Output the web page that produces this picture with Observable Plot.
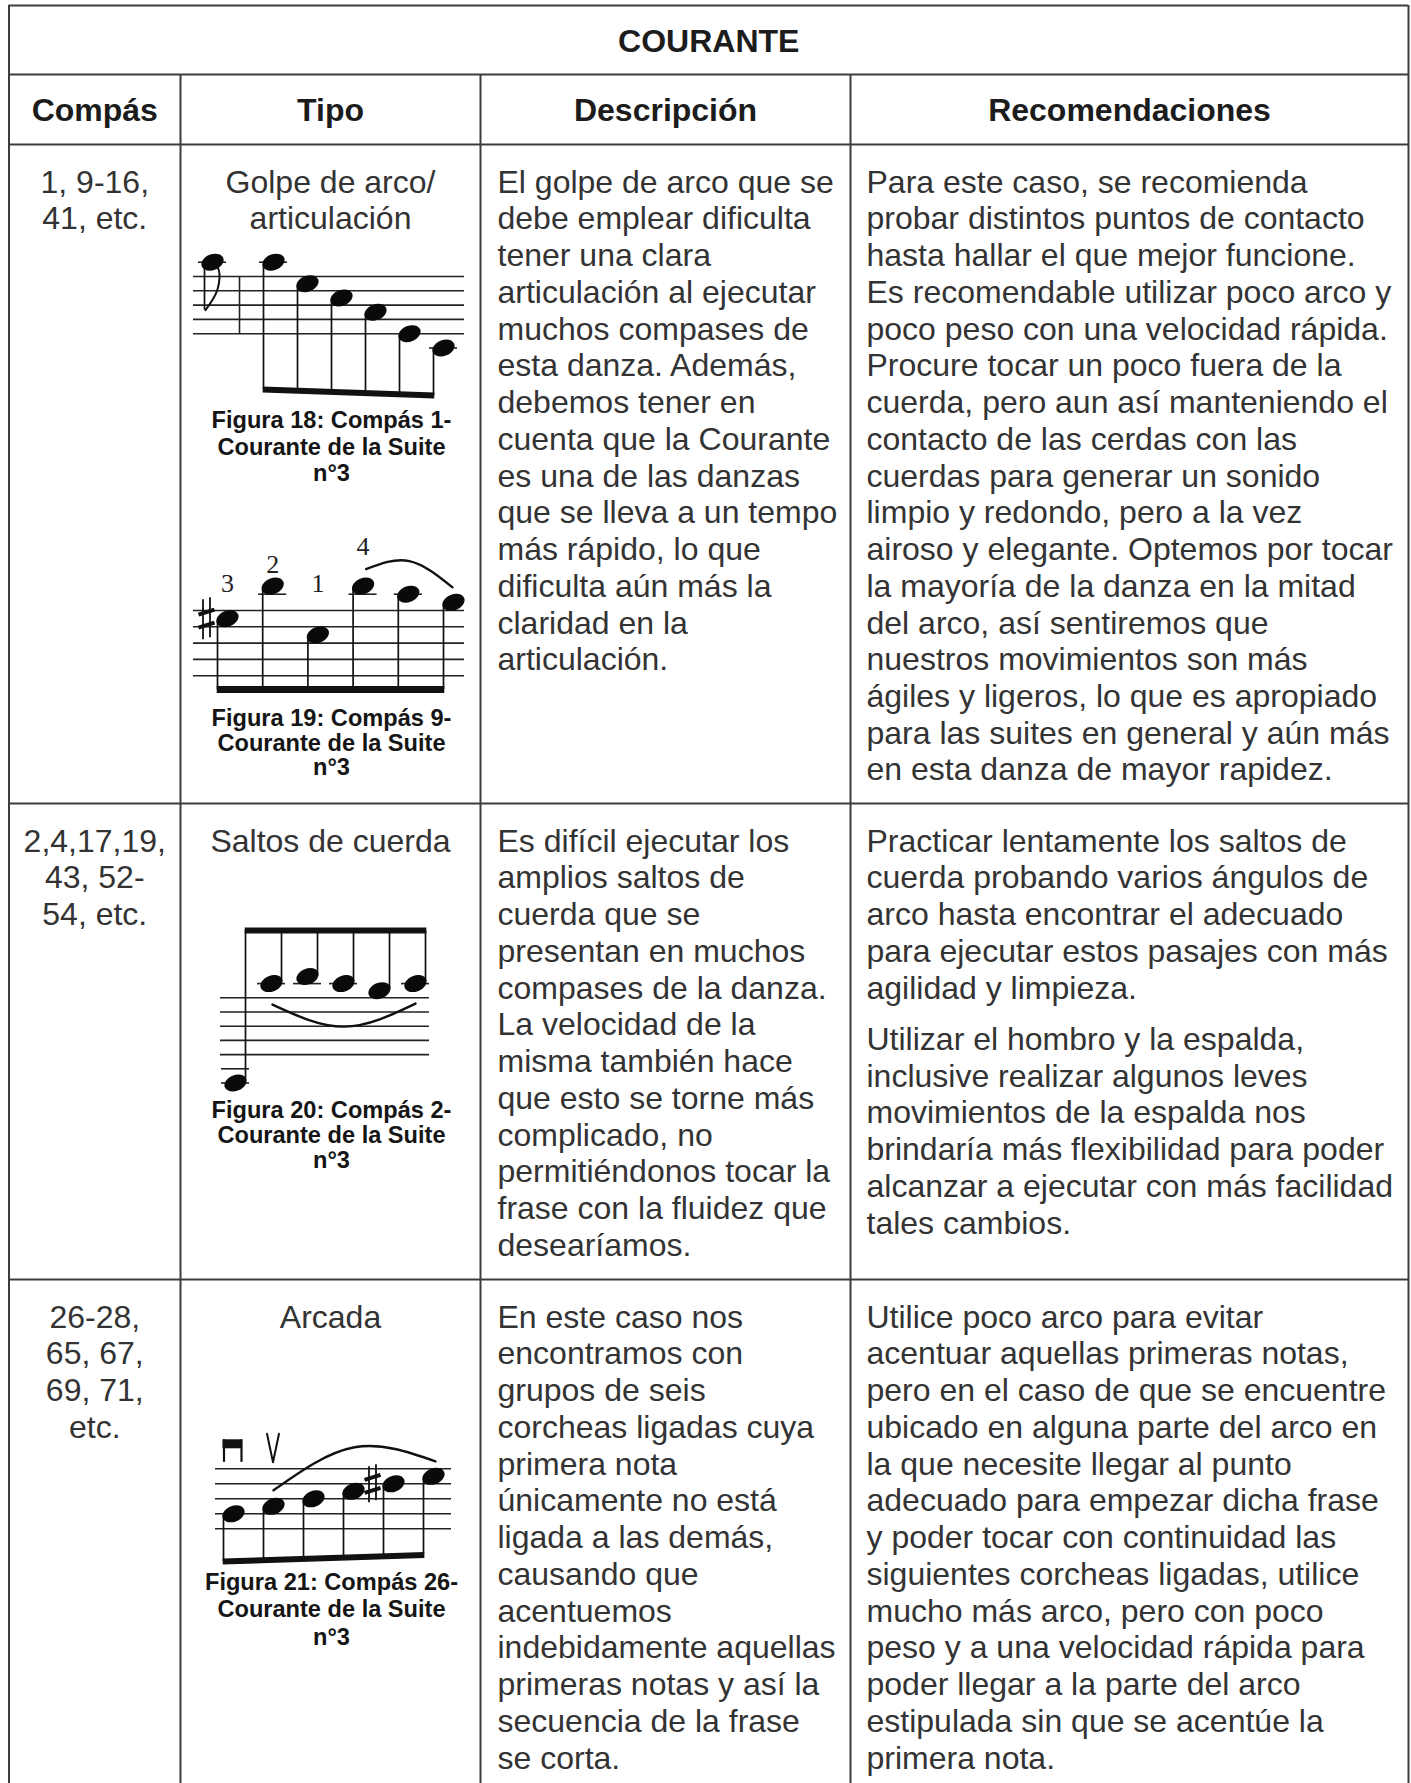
<!DOCTYPE html>
<html>
<head>
<meta charset="utf-8">
<script src="https://cdn.jsdelivr.net/npm/d3@7"></script>
<script src="https://cdn.jsdelivr.net/npm/@observablehq/plot@0.6"></script>
<style>
  html, body { margin: 0; padding: 0; background: #fff; }
  svg { display: block; }
</style>
</head>
<body>
<div id="chart"></div>
<script>
// ---------------- DATA ----------------
const tableTitle = "COURANTE";
const headers = ["Compás", "Tipo", "Descripción", "Recomendaciones"];

const compasCells = [
  ["1, 9-16,", "41, etc."],
  ["2,4,17,19,", "43, 52-", "54, etc."],
  ["26-28,", "65, 67,", "69, 71,", "etc."]
];

const tipoCells = [
  ["Golpe de arco/", "articulación"],
  ["Saltos de cuerda"],
  ["Arcada"]
];

const descripcionCells = [
  ["El golpe de arco que se", "debe emplear dificulta", "tener una clara", "articulación al ejecutar",
   "muchos compases de", "esta danza. Además,", "debemos tener en", "cuenta que la Courante",
   "es una de las danzas", "que se lleva a un tempo", "más rápido, lo que", "dificulta aún más la",
   "claridad en la", "articulación."],
  ["Es difícil ejecutar los", "amplios saltos de", "cuerda que se", "presentan en muchos",
   "compases de la danza.", "La velocidad de la", "misma también hace", "que esto se torne más",
   "complicado, no", "permitiéndonos tocar la", "frase con la fluidez que", "desearíamos."],
  ["En este caso nos", "encontramos con", "grupos de seis", "corcheas ligadas cuya",
   "primera nota", "únicamente no está", "ligada a las demás,", "causando que",
   "acentuemos", "indebidamente aquellas", "primeras notas y así la", "secuencia de la frase",
   "se corta."]
];

const recomendacionesRow1 = [
  "Para este caso, se recomienda", "probar distintos puntos de contacto", "hasta hallar el que mejor funcione.",
  "Es recomendable utilizar poco arco y", "poco peso con una velocidad rápida.", "Procure tocar un poco fuera de la",
  "cuerda, pero aun así manteniendo el", "contacto de las cerdas con las", "cuerdas para generar un sonido",
  "limpio y redondo, pero a la vez", "airoso y elegante. Optemos por tocar", "la mayoría de la danza en la mitad",
  "del arco, así sentiremos que", "nuestros movimientos son más", "ágiles y ligeros, lo que es apropiado",
  "para las suites en general y aún más", "en esta danza de mayor rapidez."
];
const recomendacionesRow2a = [
  "Practicar lentamente los saltos de", "cuerda probando varios ángulos de", "arco hasta encontrar el adecuado",
  "para ejecutar estos pasajes con más", "agilidad y limpieza."
];
const recomendacionesRow2b = [
  "Utilizar el hombro y la espalda,", "inclusive realizar algunos leves", "movimientos de la espalda nos",
  "brindaría más flexibilidad para poder", "alcanzar a ejecutar con más facilidad", "tales cambios."
];
const recomendacionesRow3 = [
  "Utilice poco arco para evitar", "acentuar aquellas primeras notas,", "pero en el caso de que se encuentre",
  "ubicado en alguna parte del arco en", "la que necesite llegar al punto", "adecuado para empezar dicha frase",
  "y poder tocar con continuidad las", "siguientes corcheas ligadas, utilice", "mucho más arco, pero con poco",
  "peso y a una velocidad rápida para", "poder llegar a la parte del arco", "estipulada sin que se acentúe la",
  "primera nota."
];

const captions = {
  18: ["Figura 18: Compás 1-", "Courante de la Suite", "n°3"],
  19: ["Figura 19: Compás 9-", "Courante de la Suite", "n°3"],
  20: ["Figura 20: Compás 2-", "Courante de la Suite", "n°3"],
  21: ["Figura 21: Compás 26-", "Courante de la Suite", "n°3"]
};

// staff steps: 0 = bottom line, 8 = top line
const fig18Pitches = [10, 7, 5, 3, 0, -2];
const fig18Pickup = 10;
const fig19Pitches = [7, 11, 5, 11, 10, 9];
const fig19Fingers = ["3", "2", "1", "4"];
const fig19Sharps = [0];
const fig20Pitches = [-4, 10, 11, 10, 9, 10];
const fig21Pitches = [2, 3, 4, 5, 6, 7];
const fig21Sharps = [4];
const fig21Bowings = ["down", "up"];

// ---------------- LAYOUT ----------------
const W = 1411, H = 1783;
const COLS = [8.5, 180, 480, 850, 1408];
const ROWS = [5, 74, 144, 803, 1279, H];
const LINE = 36.73;
const FS = 32;
const firstLine = r => ROWS[r + 2] + 38;
const INK = "#333";
const DARK = "#1c1c1c";
const RULE = "#3c3c3c";

const figs = [
  {id: 18, pitches: fig18Pitches, staffTop: 276, gap: 14.3, sx1: 193, sx2: 464, nx0: 273, ndx: 34, dir: -1, beam: [389, 395], beamW: 6, capY: 420, capDy: 26.5},
  {id: 19, pitches: fig19Pitches, staffTop: 610, gap: 16.3, sx1: 193, sx2: 464, nx0: 227, ndx: 45.2, dir: -1, beam: [689, 689], beamW: 7, capY: 718, capDy: 24.5},
  {id: 20, pitches: fig20Pitches, staffTop: 997.3, gap: 14.2, sx1: 220, sx2: 429, nx0: 235, ndx: 36, dir: 1, beam: [930, 930], beamW: 6, capY: 1110, capDy: 24.8},
  {id: 21, pitches: fig21Pitches, staffTop: 1468.3, gap: 15, sx1: 215, sx2: 451, nx0: 233, ndx: 40, dir: -1, beam: [1561, 1554.5], beamW: 6, capY: 1582, capDy: 27.4}
];
const slurs = [
  {fig: 19, from: 3, to: 5, side: -1, off: [3, -17, -1, -15], rise: 8},
  {fig: 20, from: 1, to: 5, side: 1, off: [1, 21, 0, 20], rise: 22},
  {fig: 21, from: 1, to: 5, side: -1, off: [0, -16, 2, -15], rise: 14}
];

// ---------------- BUILD ----------------
const hLines = ROWS.slice(0, 5).map(y => ({y, x1: COLS[0], x2: COLS[4]}));
const vLines = [
  {x: COLS[0], y1: ROWS[0], y2: H},
  {x: COLS[4], y1: ROWS[0], y2: H},
  ...COLS.slice(1, 4).map(x => ({x, y1: ROWS[1], y2: H}))
];

const texts = [];
const colCenter = c => (COLS[c] + COLS[c + 1]) / 2;
const pushLines = (lines, x, y0, anchor) =>
  lines.forEach((t, i) => texts.push({text: t, x, y: y0 + i * LINE, anchor}));

for (let r = 0; r < 3; r++) {
  pushLines(compasCells[r], colCenter(0), firstLine(r), "middle");
  pushLines(tipoCells[r], colCenter(1), firstLine(r), "middle");
  pushLines(descripcionCells[r], COLS[2] + 17, firstLine(r), "start");
}
pushLines(recomendacionesRow1, COLS[3] + 16, firstLine(0), "start");
pushLines(recomendacionesRow2a, COLS[3] + 16, firstLine(1), "start");
pushLines(recomendacionesRow2b, COLS[3] + 16, firstLine(1) + recomendacionesRow2a.length * LINE + 14.6, "start");
pushLines(recomendacionesRow3, COLS[3] + 16, firstLine(2), "start");

const headTexts = [
  {text: tableTitle, x: (COLS[0] + COLS[4]) / 2, y: (ROWS[0] + ROWS[1]) / 2 + 1.5},
  ...headers.map((h, i) => ({text: h, x: colCenter(i), y: (ROWS[1] + ROWS[2]) / 2 + 1}))
];

// music
const noteY = (L, p) => L.staffTop + 4 * L.gap - p * L.gap / 2;
const staffLines = [], notes = [], ledgers = [], stems = [], beams = [], capTexts = [];
figs.forEach(L => {
  for (let i = 0; i < 5; i++) staffLines.push({y: L.staffTop + i * L.gap, x1: L.sx1, x2: L.sx2});
  const ns = L.pitches.map((p, i) => ({fig: L.id, i, p, x: L.nx0 + i * L.ndx, y: noteY(L, p)}));
  L.notes = ns;
  const sx = n => n.x + L.dir * 10;
  const x0 = sx(ns[0]), x1 = sx(ns[ns.length - 1]);
  const by = x => L.beam[0] + (L.beam[1] - L.beam[0]) * (x - x0) / (x1 - x0);
  ns.forEach(n => {
    notes.push(n);
    stems.push({x: sx(n), y1: n.y - L.dir * 2, y2: by(sx(n))});
  });
  beams.push({x1: x0 - 0.8, x2: x1 + 0.8, y1: L.beam[0], y2: L.beam[1], w: L.beamW});
  captions[L.id].forEach((t, k) => capTexts.push({text: t, x: colCenter(1) + 1, y: L.capY + k * L.capDy}));
});
// pickup note of fig 18
const F18 = figs[0];
const pickup = {x: 212, y: noteY(F18, fig18Pickup), p: fig18Pickup};
notes.push(pickup);
stems.push({x: pickup.x - 8, y1: pickup.y, y2: pickup.y + 48});
const flag = [
  {x: pickup.x - 7, y: pickup.y + 48},
  {x: pickup.x + 4, y: pickup.y + 30},
  {x: pickup.x + 7, y: pickup.y + 12},
  {x: pickup.x + 5, y: pickup.y + 5}
];
const barLine = [{x: 239, y1: F18.staffTop, y2: F18.staffTop + 4 * F18.gap}];

// ledger lines
figs.forEach(L => {
  const all = L.id === 18 ? [...L.notes, pickup] : L.notes;
  all.forEach(n => {
    if (n.p >= 10) for (let q = 10; q <= n.p; q += 2) ledgers.push({y: noteY(L, q), x1: n.x - 14, x2: n.x + 14});
    if (n.p <= -2) for (let q = -2; q >= n.p; q -= 2) ledgers.push({y: noteY(L, q), x1: n.x - 14, x2: n.x + 14});
  });
});

// slurs
const slurPts = [];
slurs.forEach((s, k) => {
  const L = figs.find(f => f.id === s.fig);
  const a = L.notes[s.from], b = L.notes[s.to];
  const p0 = {x: a.x + s.off[0], y: a.y + s.off[1]};
  const p2 = {x: b.x + s.off[2], y: b.y + s.off[3]};
  const ext = s.side < 0 ? Math.min(p0.y, p2.y) - s.rise : Math.max(p0.y, p2.y) + s.rise;
  const pm = {x: (p0.x + p2.x) / 2, y: ext};
  [p0, pm, p2].forEach(p => slurPts.push({...p, k}));
});

// sharps
const sharpV = [], sharpBars = [];
const addSharp = (n, h) => {
  const cx = n.x - 21, cy = n.y;
  sharpV.push({x: cx - 3.5, y1: cy - h + 2, y2: cy + h});
  sharpV.push({x: cx + 3.5, y1: cy - h, y2: cy + h - 2});
  sharpBars.push({x1: cx - 8, y1: cy - 4, x2: cx + 8, y2: cy - 9});
  sharpBars.push({x1: cx - 8, y1: cy + 9, x2: cx + 8, y2: cy + 4});
};
fig19Sharps.forEach(i => addSharp(figs[1].notes[i], 21));
fig21Sharps.forEach(i => addSharp(figs[3].notes[i], 19));

// fingerings fig 19
const F19 = figs[1];
const fingers = fig19Fingers.map((t, i) => {
  const n = F19.notes[i];
  let y = Math.min(n.y - 21, F19.staffTop - 27);
  if (slurs.some(s => s.fig === 19 && s.from === i)) y -= 18;
  return {text: t, x: n.x, y};
});

// bowings fig 21
const F21 = figs[3];
const bowRects = [], bowLegs = [], bowV = [];
fig21Bowings.forEach((b, i) => {
  const n = F21.notes[i];
  if (b === "down") {
    bowRects.push({x1: n.x - 10.5, x2: n.x + 9, y1: F21.staffTop - 29, y2: F21.staffTop - 20});
    bowLegs.push({x: n.x - 9.5, y1: F21.staffTop - 29, y2: F21.staffTop - 6.5});
    bowLegs.push({x: n.x + 8, y1: F21.staffTop - 29, y2: F21.staffTop - 6.5});
  } else {
    bowV.push({x: n.x - 6.5, y: F21.staffTop - 35, k: i});
    bowV.push({x: n.x - 0.5, y: F21.staffTop - 6.5, k: i});
    bowV.push({x: n.x + 5.5, y: F21.staffTop - 35, k: i});
  }
});

// note head symbol
const noteHead = {
  draw(ctx, size) {
    const r = Math.sqrt(size / Math.PI);
    const a = r * 1.05, b = r * 0.72, t = -22 * Math.PI / 180, k = 0.5523;
    const c = Math.cos(t), s = Math.sin(t);
    const P = (u, v) => [u * c - v * s, u * s + v * c];
    ctx.moveTo(...P(a, 0));
    const seg = (p1, p2, p3) => ctx.bezierCurveTo(...P(...p1), ...P(...p2), ...P(...p3));
    seg([a, k * b], [k * a, b], [0, b]);
    seg([-k * a, b], [-a, k * b], [-a, 0]);
    seg([-a, -k * b], [-k * a, -b], [0, -b]);
    seg([k * a, -b], [a, -k * b], [a, 0]);
    ctx.closePath();
  }
};

const SANS = "Liberation Sans, Arial, Helvetica, sans-serif";

const chart = Plot.plot({
  width: W,
  height: H,
  margin: 0,
  x: {domain: [0, W], range: [0, W], axis: null},
  y: {domain: [0, H], range: [0, H], axis: null},
  style: {background: "#fff", fontFamily: SANS},
  marks: [
    // table grid
    Plot.ruleY(hLines, {y: "y", x1: "x1", x2: "x2", stroke: RULE, strokeWidth: 2}),
    Plot.ruleX(vLines, {x: "x", y1: "y1", y2: "y2", stroke: RULE, strokeWidth: 2}),
    // headers
    Plot.text(headTexts, {x: "x", y: "y", text: "text", fontSize: FS, fontWeight: "bold", fill: DARK, textAnchor: "middle", lineAnchor: "middle", fontFamily: SANS}),
    // body text
    Plot.text(texts.filter(d => d.anchor === "middle"), {x: "x", y: "y", text: "text", fontSize: FS, fill: INK, textAnchor: "middle", lineAnchor: "middle", fontFamily: SANS}),
    Plot.text(texts.filter(d => d.anchor === "start"), {x: "x", y: "y", text: "text", fontSize: FS, fill: INK, textAnchor: "start", lineAnchor: "middle", fontFamily: SANS}),
    // captions
    Plot.text(capTexts, {x: "x", y: "y", text: "text", fontSize: 23.6, fontWeight: "bold", fill: "#151515", textAnchor: "middle", lineAnchor: "middle", fontFamily: SANS}),
    // staves
    Plot.ruleY(staffLines, {y: "y", x1: "x1", x2: "x2", stroke: "#222", strokeWidth: 1.6}),
    Plot.ruleY(ledgers, {y: "y", x1: "x1", x2: "x2", stroke: "#222", strokeWidth: 1.6}),
    Plot.ruleX(barLine, {x: "x", y1: "y1", y2: "y2", stroke: "#222", strokeWidth: 1.6}),
    Plot.ruleX(stems, {x: "x", y1: "y1", y2: "y2", stroke: "#111", strokeWidth: 1.7}),
    Plot.link(beams, {x1: "x1", y1: "y1", x2: "x2", y2: "y2", stroke: "#111", strokeWidth: "w", strokeLinecap: "butt"}),
    Plot.line(flag, {x: "x", y: "y", curve: "natural", stroke: "#111", strokeWidth: 2}),
    Plot.dot(notes, {x: "x", y: "y", r: 11, symbol: noteHead, fill: "#0a0a0a", stroke: "none"}),
    Plot.line(slurPts, {x: "x", y: "y", z: "k", curve: "natural", stroke: "#111", strokeWidth: 2.4}),
    Plot.ruleX(sharpV, {x: "x", y1: "y1", y2: "y2", stroke: "#111", strokeWidth: 1.8}),
    Plot.link(sharpBars, {x1: "x1", y1: "y1", x2: "x2", y2: "y2", stroke: "#111", strokeWidth: 4, strokeLinecap: "butt"}),
    Plot.text(fingers, {x: "x", y: "y", text: "text", fontSize: 26, fontFamily: "Liberation Serif, Times New Roman, serif", fill: "#222", textAnchor: "middle", lineAnchor: "middle"}),
    Plot.rect(bowRects, {x1: "x1", x2: "x2", y1: "y1", y2: "y2", fill: "#111"}),
    Plot.ruleX(bowLegs, {x: "x", y1: "y1", y2: "y2", stroke: "#111", strokeWidth: 2.2}),
    Plot.line(bowV, {x: "x", y: "y", z: "k", stroke: "#111", strokeWidth: 2})
  ]
});
document.getElementById("chart").appendChild(chart);
</script>
</body>
</html>
